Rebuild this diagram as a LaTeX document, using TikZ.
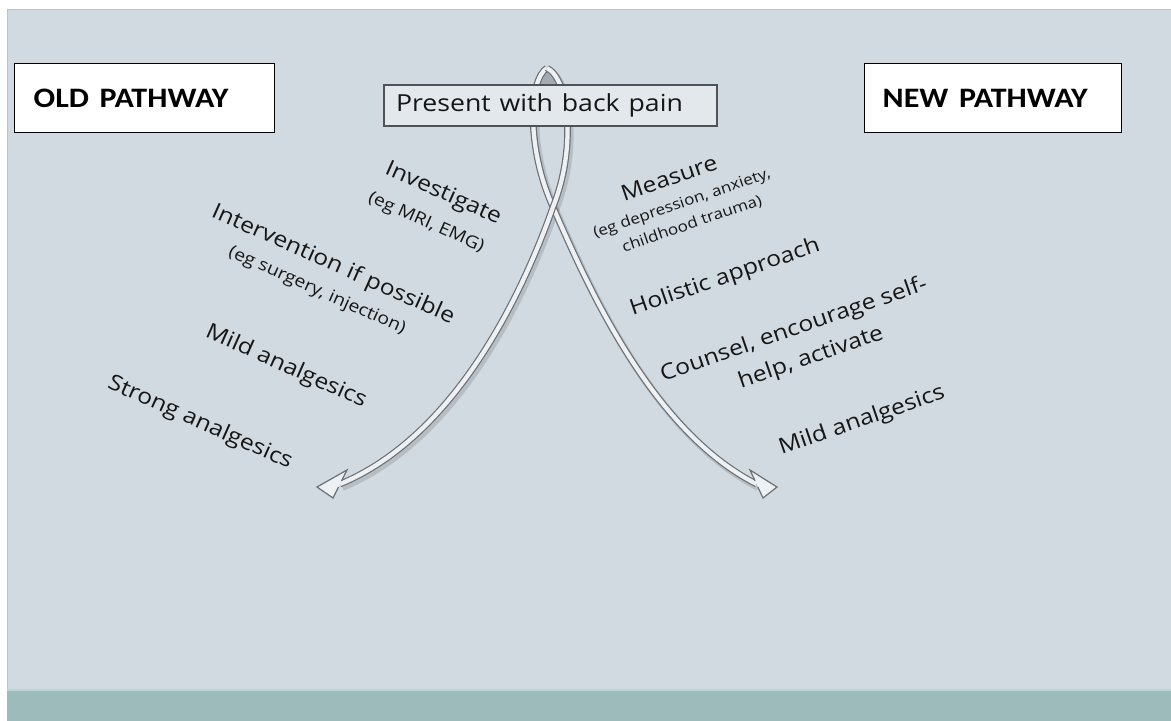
\documentclass[tikz,border=0pt]{standalone}
\usepackage{fontspec}
\setmainfont{Open Sans}
\newfontfamily\boxfont{Carlito}
\usepackage{graphicx}
\definecolor{bgc}{HTML}{D2DAE1}
\definecolor{bgline}{HTML}{BCC3CA}
\definecolor{teal}{HTML}{9DBBBB}
\definecolor{teallight}{HTML}{BFD1D3}
\definecolor{presfill}{HTML}{E3E8EC}
\definecolor{presline}{HTML}{4F5358}
\definecolor{shaftline}{HTML}{6B7075}
\definecolor{shaftfill}{HTML}{EEF1F3}
\definecolor{tear}{HTML}{A3AAB2}
\definecolor{txt}{HTML}{161616}
\newcommand\sqz[1]{\scalebox{1}[0.88]{#1}}
\begin{document}
\begin{tikzpicture}[x=0.75pt,y=-0.75pt,
  pathbox/.style={draw=black, line width=1.1pt, fill=white, minimum height=51.75pt,
    align=left, anchor=north west, text=black, font=\boxfont\bfseries\fontsize{24}{28}\selectfont},
  presbox/.style={draw=presline, line width=1.1pt, fill=presfill, minimum height=30.75pt,
    inner xsep=9pt, text width=231.75pt, align=left, text=txt, font=\fontsize{20}{24}\selectfont},
  lab/.style={inner sep=0pt, text=txt, font=\fontsize{18.5}{22}\selectfont},
  sublab/.style={inner sep=0pt, text=txt, font=\fontsize{14.5}{17}\selectfont},
  smalllab/.style={inner sep=0pt, text=txt, font=\fontsize{12.8}{15}\selectfont},
  shaft/.style={draw=shaftline, line width=0.9pt, double=shaftfill, double distance=3.2pt},
  shadowline/.style={draw=black, opacity=0.13, line width=6pt},
  head/.style={draw=shaftline, line width=0.9pt, fill=shaftfill, line join=miter},
]
\useasboundingbox (0,0) rectangle (1171,721);
\fill[white] (0,0) rectangle (1171,721);
\fill[bgc] (7,9) rectangle (1171,690);
\draw[bgline, line width=0.8pt] (7.5,721) -- (7.5,9.5) -- (1171,9.5);
\fill[teal] (7,690) rectangle (1171,721);
\draw[teallight, line width=1pt] (7,690) -- (1171,690);

% named points of the arrows
\coordinate (top) at (547,68);
\coordinate (cross) at (553,207);
\coordinate (lend) at (340,484);
\coordinate (rend) at (756.5,484);

% shadows
\begin{scope}[transform canvas={shift={(1.6pt,-2.2pt)}}]
\draw[shadowline] (top) .. controls (570,80) and (576,150) .. (cross)
   .. controls (526,284) and (459.6,434.6) .. (lend);
\draw[shadowline] (top) .. controls (528,80) and (527,150) .. (cross)
   .. controls (585.5,281) and (650,430) .. (rend);
\end{scope}

% top teardrop
\begin{scope}
\clip (500,60) rectangle (600,95);
\fill[tear] (top) .. controls (570,80) and (576,150) .. (cross)
   .. controls (527,150) and (528,80) .. (top) -- cycle;
\end{scope}

% shafts
\draw[shaft] (top) .. controls (528,80) and (527,150) .. (cross)
   .. controls (585.5,281) and (650,430) .. (rend);
\draw[shaft] (top) .. controls (570,80) and (576,150) .. (cross)
   .. controls (526,284) and (459.6,434.6) .. (lend);

% heads
\path[head] (341.5,481) -- (347,470) -- (317,487) -- (333,498) -- (338.5,487);
\path[head] (755.1,480.9) -- (750,470) -- (777,487) -- (763,498) -- (757.9,487.1);

% central box
\node[presbox] (present) at (550.5,105.5) {\sqz{Present with back pain}};

% pathway boxes
\node[pathbox, minimum width=195pt, inner xsep=14.25pt, text width=166.5pt] (old) at (14,63)
  {\sqz{OLD PATHWAY}};
\node[pathbox, minimum width=192.75pt, inner xsep=13.5pt, text width=165.75pt] (new) at (864,63)
  {\sqz{NEW PATHWAY}};

% old pathway labels
\node[lab, rotate=-24] (inv) at (443,194) {\sqz{Investigate}};
\node[sublab, rotate=-24] (invs) at (426,223) {\sqz{(eg MRI, EMG)}};
\node[lab, rotate=-24] (intv) at (333,265) {\sqz{Intervention if possible}};
\node[sublab, rotate=-24] (intvs) at (317,291) {\sqz{(eg surgery, injection)}};
\node[lab, rotate=-24] (mildl) at (286,367) {\sqz{Mild analgesics}};
\node[lab, rotate=-24] (strong) at (200,423) {\sqz{Strong analgesics}};

% new pathway labels
\node[lab, rotate=19] (meas) at (669,178) {\sqz{Measure}};
\node[smalllab, rotate=19] (meas1) at (682,204) {\sqz{(eg depression, anxiety,}};
\node[smalllab, rotate=19] (meas2) at (692,224) {\sqz{childhood trauma)}};
\node[lab, rotate=19] (hol) at (725,278) {\sqz{Holistic approach}};
\node[lab, rotate=19] (coun1) at (794,330) {\sqz{Counsel, encourage self-}};
\node[lab, rotate=19] (coun2) at (811,358) {\sqz{help, activate}};
\node[lab, rotate=19] (mildr) at (862,421) {\sqz{Mild analgesics}};
\end{tikzpicture}
\end{document}
